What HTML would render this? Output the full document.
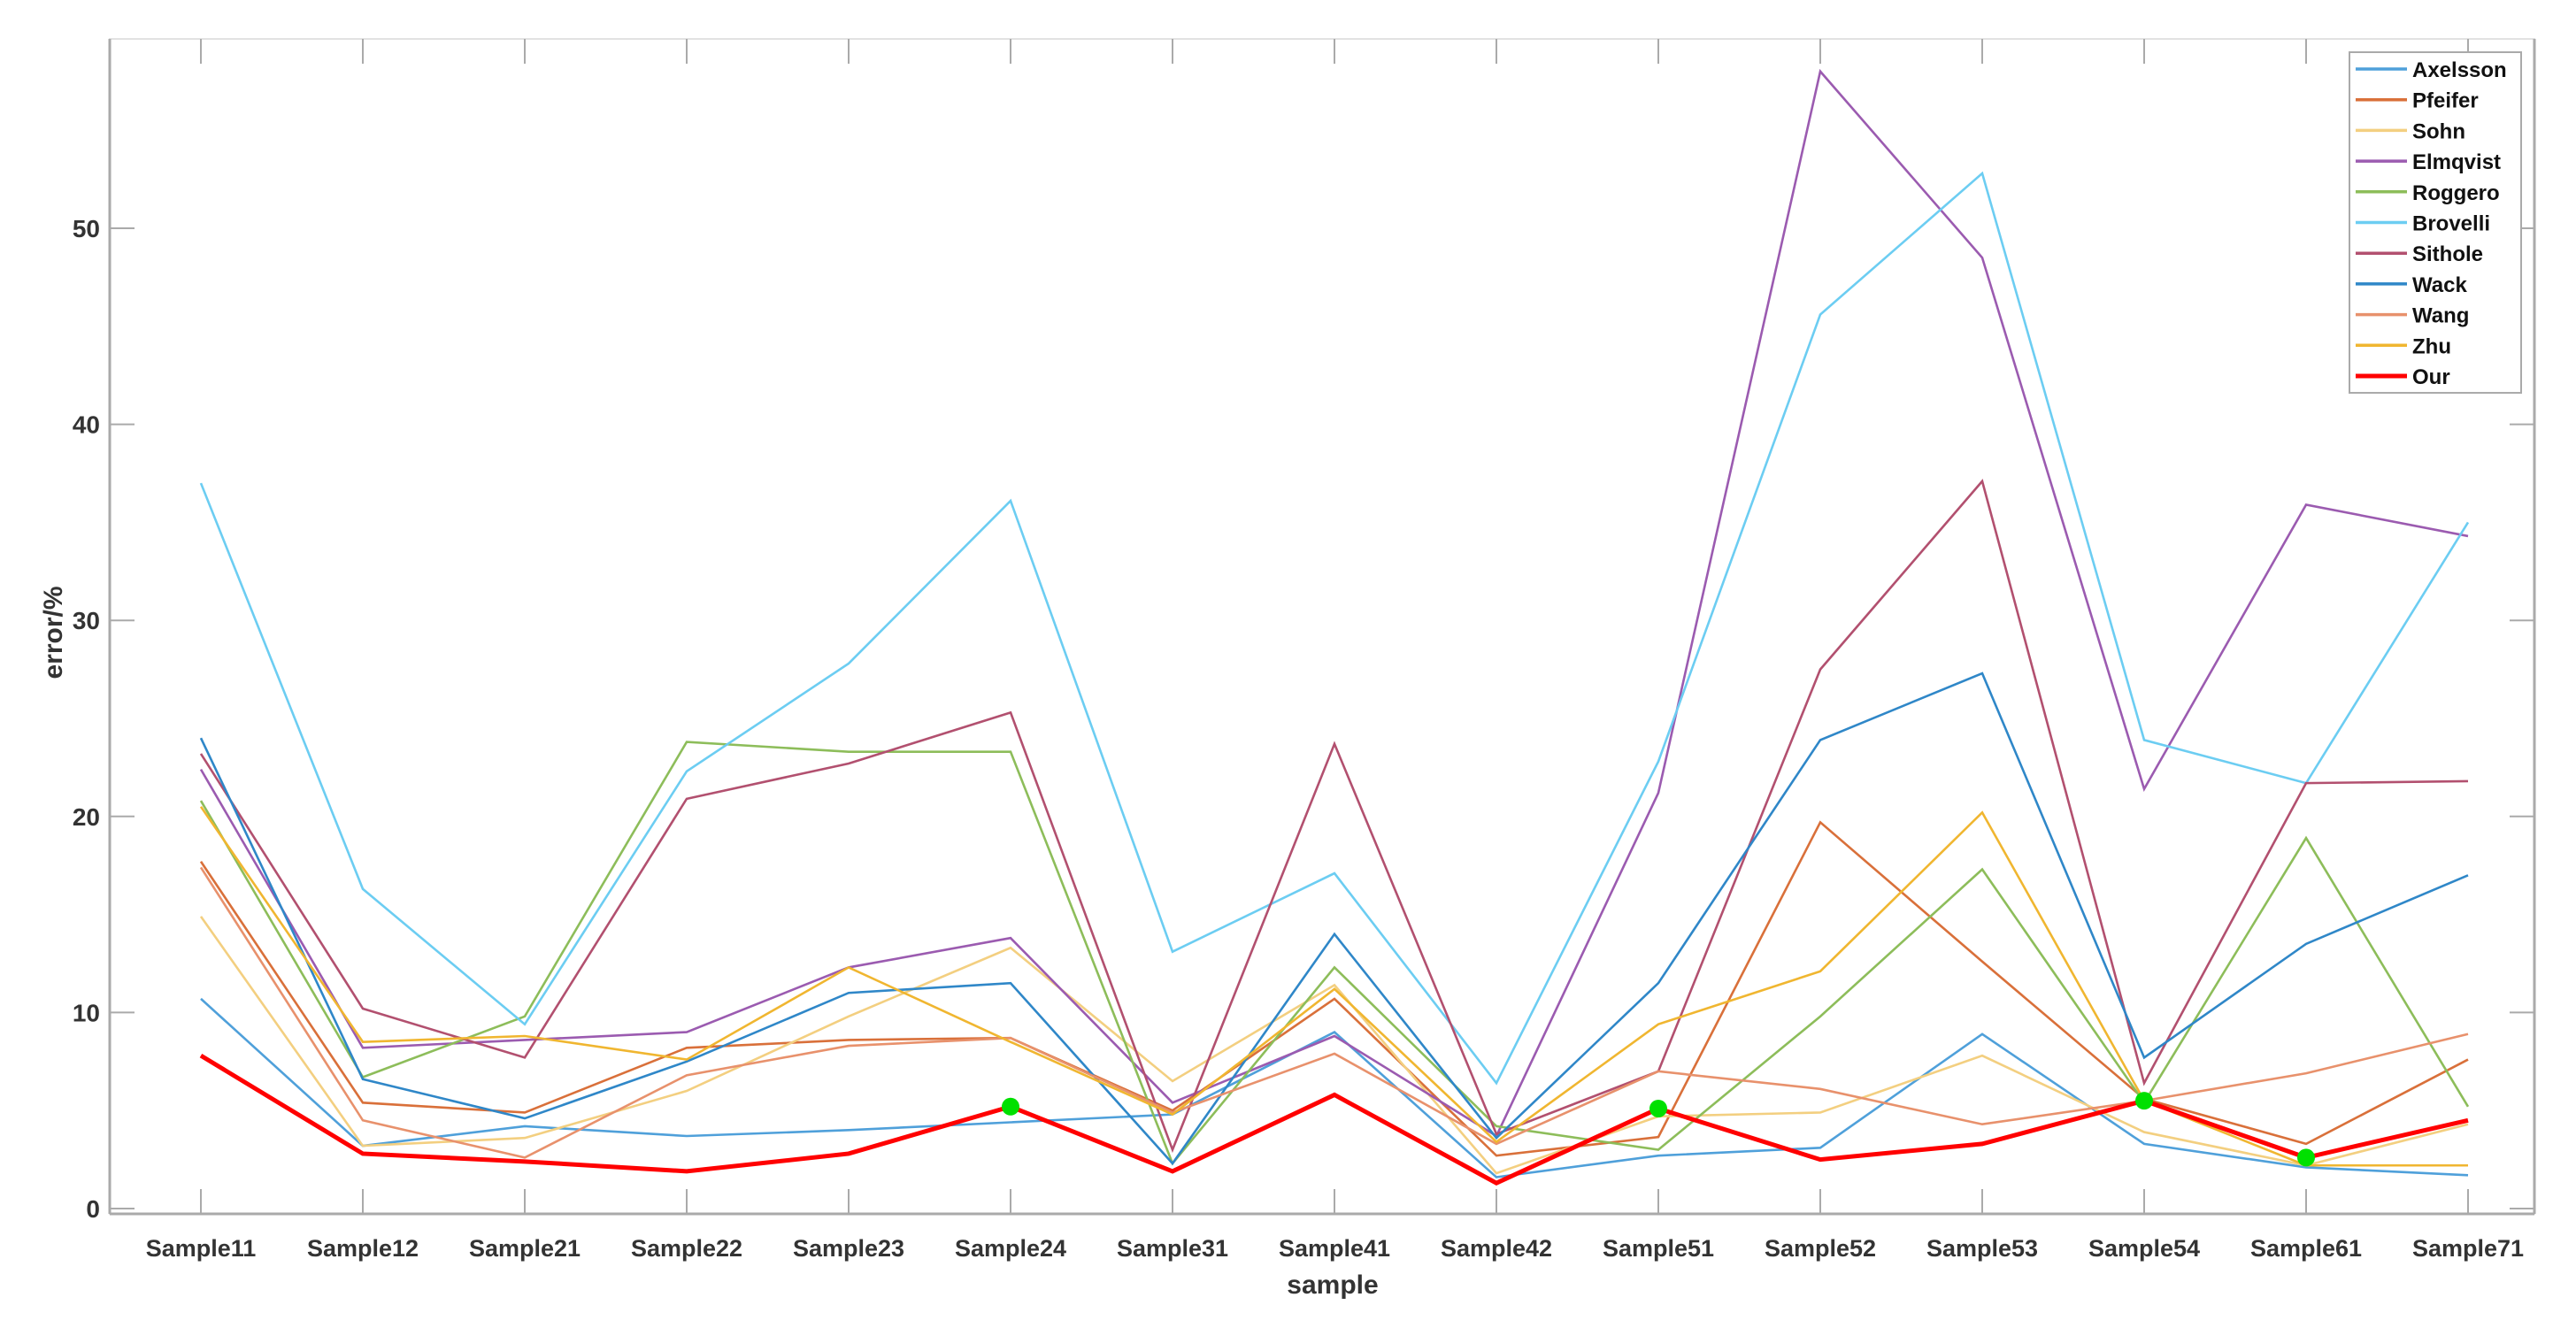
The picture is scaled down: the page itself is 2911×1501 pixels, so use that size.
<!DOCTYPE html>
<html><head><meta charset="utf-8"><style>
html,body{margin:0;padding:0;background:#fff;}
svg text{font-family:"Liberation Sans",Arial,sans-serif;}
</style></head><body>
<svg id="chart" width="2911" height="1496" viewBox="0 0 2911 1496" xmlns="http://www.w3.org/2000/svg">
<rect x="0" y="0" width="2911" height="1496" fill="#fff"/>
<g id="grid"></g>
<g id="lines"></g>
<g id="axes"></g>
<g id="legend"></g>
</svg>
<script>
const categories = ["Sample11","Sample12","Sample21","Sample22","Sample23","Sample24","Sample31","Sample41","Sample42","Sample51","Sample52","Sample53","Sample54","Sample61","Sample71"];
const yTicks = [0,10,20,30,40,50];
const seriesNames = ["Axelsson","Pfeifer","Sohn","Elmqvist","Roggero","Brovelli","Sithole","Wack","Wang","Zhu","Our"];
const axelsson = [10.7,3.2,4.2,3.7,4.0,4.4,4.8,9.0,1.6,2.7,3.1,8.9,3.3,2.1,1.7];
const pfeifer  = [17.7,5.4,4.9,8.2,8.6,8.7,5.0,10.7,2.7,3.65,19.7,12.6,5.6,3.3,7.6];
const sohn     = [14.9,3.2,3.6,6.0,9.8,13.3,6.5,11.4,1.8,4.7,4.9,7.8,3.9,2.2,4.3];
const elmqvist = [22.4,8.2,8.6,9.0,12.3,13.8,5.4,8.8,3.7,21.2,58.0,48.5,21.4,35.9,34.3];
const roggero  = [20.8,6.7,9.8,23.8,23.3,23.3,2.3,12.3,4.2,3.0,9.8,17.3,5.4,18.9,5.2];
const brovelli = [37.0,16.3,9.4,22.3,27.8,36.1,13.1,17.1,6.4,22.8,45.6,52.8,23.9,21.7,35.0];
const sithole  = [23.2,10.2,7.7,20.9,22.7,25.3,3.0,23.7,3.8,7.0,27.5,37.1,6.4,21.7,21.8];
const wack     = [24.0,6.6,4.6,7.5,11.0,11.5,2.3,14.0,3.6,11.5,23.9,27.3,7.7,13.5,17.0];
const wang     = [17.4,4.5,2.6,6.8,8.3,8.7,4.9,7.9,3.3,7.0,6.1,4.3,5.5,6.9,8.9];
const zhu      = [20.5,8.5,8.8,7.6,12.3,8.5,4.8,11.2,3.4,9.4,12.1,20.2,5.5,2.2,2.2];
const our      = [7.8,2.8,2.4,1.9,2.8,5.2,1.9,5.8,1.3,5.1,2.5,3.3,5.5,2.6,4.5];
const highlightIdx = [5,9,12,13];

const NS="http://www.w3.org/2000/svg";
const L=124,R=2864,T=44,B=1372;
function xPos(i){return 227+i*183;}
function yPos(v){return 1366-v*22.16;}
function mk(tag,parent,attrs){const e=document.createElementNS(NS,tag);for(const k in attrs)e.setAttribute(k,attrs[k]);parent.appendChild(e);return e;}

const lines=document.getElementById('lines');
const axes=document.getElementById('axes');
const legend=document.getElementById('legend');
const series=[axelsson,pfeifer,sohn,elmqvist,roggero,brovelli,sithole,wack,wang,zhu,our];
const colors=["#4fa0da","#d9703a","#f3cf80","#9b5bb0","#8dbd5a","#6ccdf2","#b2506f","#2f87c8","#e8916c","#f0b630","#ff0000"];
const widths=[2.6,2.6,2.6,2.6,2.6,2.6,2.6,2.6,2.6,2.6,5];

// axes box
const box=mk('rect',axes,{x:L,y:T,width:R-L,height:B-T,fill:'none',stroke:'#e2e2e2','stroke-width':2});


const la=mk('line',axes,{x1:L,y1:T,x2:L,y2:B,stroke:'#aaa','stroke-width':3});


const ba=mk('line',axes,{x1:L,y1:B,x2:R,y2:B,stroke:'#aaa','stroke-width':3});


const ra=mk('line',axes,{x1:R,y1:T,x2:R,y2:B,stroke:'#aaa','stroke-width':3});



yTicks.forEach(v=>{
  const y=yPos(v);
  mk('line',axes,{x1:L,y1:y,x2:L+28,y2:y,stroke:'#aaa','stroke-width':2});
  mk('line',axes,{x1:R,y1:y,x2:R-28,y2:y,stroke:'#aaa','stroke-width':2});
  const t=mk('text',axes,{x:113,y:y+10,'text-anchor':'end','font-size':28,'font-weight':'bold',fill:'#333'});
  t.textContent=v;
  
  
});
categories.forEach((c,i)=>{
  const x=xPos(i);
  mk('line',axes,{x1:x,y1:B,x2:x,y2:B-28,stroke:'#aaa','stroke-width':2});
  mk('line',axes,{x1:x,y1:T,x2:x,y2:T+28,stroke:'#aaa','stroke-width':2});
  const t=mk('text',axes,{x:x,y:1420,'text-anchor':'middle','font-size':27,'font-weight':'bold',fill:'#333'});
  t.textContent=c;
  
  
});
const xt=mk('text',axes,{x:1506,y:1462,'text-anchor':'middle','font-size':30,'font-weight':'bold',fill:'#333'});
xt.textContent='sample';


const yt=mk('text',axes,{x:0,y:0,'text-anchor':'middle','font-size':30,'font-weight':'bold',fill:'#333',transform:'translate(70,715) rotate(-90)'});
yt.textContent='error/%';



series.forEach((s,k)=>{
  const pts=s.map((v,i)=>xPos(i)+','+yPos(v)).join(' ');
  const pl=mk('polyline',lines,{points:pts,fill:'none',stroke:colors[k],'stroke-width':widths[k],'stroke-linejoin':'miter'});
  
  
});
highlightIdx.forEach(i=>{
  const c=mk('circle',lines,{cx:xPos(i),cy:yPos(our[i]),r:10,fill:'#00e000'});
  
  
});

// legend
const lb=mk('rect',legend,{x:2655,y:59,width:194,height:385,fill:'#fff',stroke:'#aaa','stroke-width':2});


seriesNames.forEach((n,k)=>{
  const y=78+k*34.7;
  const g=mk('g',legend,{});
  
  
  mk('line',g,{x1:2662,y1:y,x2:2720,y2:y,stroke:colors[k],'stroke-width':k===10?5:3.5});
  const t=mk('text',g,{x:2726,y:y+9,'font-size':24,'font-weight':'bold',fill:'#111'});
  t.textContent=n;
});
</script>
</body></html>
